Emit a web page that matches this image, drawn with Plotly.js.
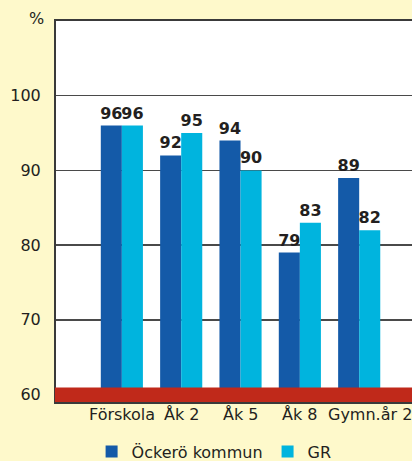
<!DOCTYPE html>
<html>
<head>
<meta charset="utf-8">
<script src="https://cdn.plot.ly/plotly-3.0.1.min.js"></script>
<style>html,body{margin:0;padding:0;background:#FEF9CB;}#chart{width:412px;height:461px;}</style>
</head>
<body>
<div id="chart"></div>
<script>
var categories = ["Förskola", "Åk 2", "Åk 5", "Åk 8", "Gymn.år 2"];
var seriesNames = ["Öckerö kommun", "GR"];
var ockero = [96, 92, 94, 79, 89];
var gr = [96, 95, 90, 83, 82];
var yTicks = [60, 70, 80, 90, 100];
var unitLabel = "%";

var font = "DejaVu Sans, Arial, sans-serif";
function mk(name, vals, color) {
  return {
    type: "bar", name: name, x: categories, y: vals,
    marker: {color: color},
    text: vals.map(String), textposition: "outside",
    textfont: {family: font, size: 16, color: "#231f20", weight: "bold"},
    constraintext: "none", cliponaxis: false, hoverinfo: "skip"
  };
}
var data = [mk(seriesNames[0], ockero, "#145AA8"), mk(seriesNames[1], gr, "#00B4DE")];

// category labels drawn as annotations at each category (last one sits a bit right)
var catAnnotations = categories.map(function (c, i) {
  return {xref: "x", yref: "paper", x: c, y: 0, xanchor: "center", yanchor: "middle",
          yshift: -12.5, xshift: i === categories.length - 1 ? 11 : 0,
          text: c, showarrow: false, font: {family: font, size: 16, color: "#231f20"}};
});

var layout = {
  width: 412, height: 461,
  paper_bgcolor: "#FEF9CB", plot_bgcolor: "#FFFFFF",
  margin: {l: 56, r: 0, t: 21, b: 58.5, autoexpand: false},
  font: {family: font, size: 16, color: "#231f20"},
  barmode: "group", bargap: 0.29, bargroupgap: 0,
  showlegend: true,
  legend: {orientation: "h", x: 0.1, xanchor: "left", y: -0.13, yanchor: "middle",
           bgcolor: "rgba(0,0,0,0)", font: {family: font, size: 16, color: "#231f20"},
           itemclick: false, itemdoubleclick: false},
  xaxis: {range: [-1.11, 4.89], showgrid: false, showline: true, linecolor: "#3a3a3a", linewidth: 2,
          mirror: true, ticks: "", showticklabels: false, automargin: false, fixedrange: true},
  yaxis: {range: [59, 110], tickvals: yTicks, ticktext: yTicks.map(String),
          showgrid: true, gridcolor: "#4a4a4a", gridwidth: 1.5, zeroline: false,
          showline: true, linecolor: "#3a3a3a", linewidth: 2, ticks: "", ticklabelstandoff: 10,
          automargin: false, tickfont: {family: font, size: 16}, fixedrange: true},
  shapes: [{type: "rect", xref: "paper", yref: "y", x0: -0.003, x1: 1, y0: 59, y1: 60.93,
            fillcolor: "#C0291A", line: {width: 0}, layer: "above"}],
  annotations: [{xref: "paper", yref: "paper", x: 0, y: 1, xanchor: "right", yanchor: "middle",
                 xshift: -10, yshift: 3, text: unitLabel, showarrow: false,
                 font: {family: font, size: 16, color: "#231f20"}}].concat(catAnnotations)
};
Plotly.newPlot("chart", data, layout, {displayModeBar: false, staticPlot: true});
</script>
</body>
</html>
